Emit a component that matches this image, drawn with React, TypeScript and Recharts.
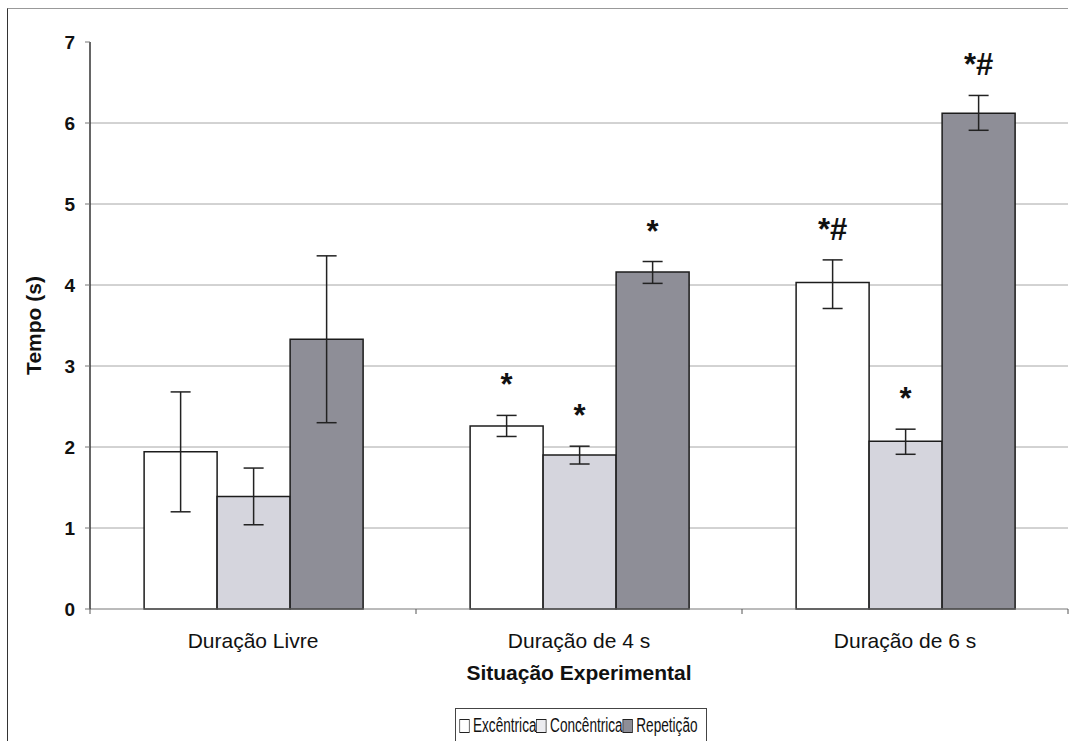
import React from 'react';
import { BarChart, Bar, XAxis, YAxis, CartesianGrid, ErrorBar, Legend } from 'recharts';

const FONT = '"Liberation Sans", Arial, sans-serif';

const categories = ['Duração Livre', 'Duração de 4 s', 'Duração de 6 s'];

const excentrica = [1.94, 2.26, 4.03];
const excLow = [1.2, 2.13, 3.71];
const excHigh = [2.68, 2.39, 4.31];

const concentrica = [1.39, 1.9, 2.07];
const concLow = [1.04, 1.79, 1.91];
const concHigh = [1.74, 2.01, 2.22];

const repeticao = [3.33, 4.16, 6.12];
const repLow = [2.3, 4.02, 5.91];
const repHigh = [4.36, 4.29, 6.34];

const excSig = ['', '*', '*#'];
const concSig = ['', '*', '*'];
const repSig = ['', '*', '*#'];

const yTicks = [0, 1, 2, 3, 4, 5, 6, 7];
const gridValues = [1, 2, 3, 4, 5, 6];

const COLORS = {
  exc: '#ffffff',
  conc: '#d5d5dd',
  rep: '#8e8e97',
  stroke: '#1c1c1c',
};

const data = categories.map((name, i) => ({
  name,
  exc: excentrica[i],
  excErr: [excentrica[i] - excLow[i], excHigh[i] - excentrica[i]],
  conc: concentrica[i],
  concErr: [concentrica[i] - concLow[i], concHigh[i] - concentrica[i]],
  rep: repeticao[i],
  repErr: [repeticao[i] - repLow[i], repHigh[i] - repeticao[i]],
}));

// significance marks sit a little above the top of each error bar
const sigLabel = (values: number[], high: number[], sig: string[]) => (props: any) => {
  const { x, y, width, height } = props;
  let i = props.index;
  if (i == null) i = values.indexOf(Number(props.value));
  if (i < 0 || !sig[i]) return null;
  const perUnit = height / values[i];
  const top = y + height - high[i] * perUnit;
  return (
    <text
      key={`sig-${i}`}
      x={x + width / 2}
      y={top - 20}
      textAnchor="middle"
      fontFamily={FONT}
      fontSize={31}
      fontWeight="bold"
      fill="#111"
    >
      {sig[i]}
    </text>
  );
};

function CategoryTick(props: any) {
  const { x, y, payload, index } = props;
  const half = payload?.offset || 163;
  return (
    <g>
      <line x1={x - half} y1={y} x2={x - half} y2={y + 5} stroke="#555" />
      {index === categories.length - 1 && (
        <line x1={x + half} y1={y} x2={x + half} y2={y + 5} stroke="#555" />
      )}
      <text x={x} y={y + 39} textAnchor="middle" fontFamily={FONT} fontSize={21} fill="#111">
        {payload.value}
      </text>
    </g>
  );
}

function LegendBox() {
  const items = [
    { name: 'Excêntrica', color: COLORS.exc },
    { name: 'Concêntrica', color: '#ececf0' },
    { name: 'Repetição', color: COLORS.rep },
  ];
  return (
    <div
      style={{
        height: 40,
        width: 252,
        border: '1px solid #444',
        background: '#fff',
        boxSizing: 'border-box',
        overflow: 'hidden',
      }}
    >
      <div
        style={{
          display: 'inline-flex',
          alignItems: 'center',
          whiteSpace: 'nowrap',
          transform: 'scaleX(0.68)',
          transformOrigin: 'left center',
          fontFamily: FONT,
          fontSize: 20,
          color: '#111',
          paddingLeft: 5,
          paddingTop: 5,
        }}
      >
        {items.map((it) => (
          <span key={it.name} style={{ display: 'inline-flex', alignItems: 'center' }}>
            <span
              style={{
                display: 'inline-block',
                width: 13,
                height: 12,
                border: '1.5px solid #222',
                background: it.color,
                marginRight: 5,
              }}
            />
            {it.name}
          </span>
        ))}
      </div>
    </div>
  );
}

export default function App() {
  return (
    <div style={{ position: 'absolute', left: 0, top: 0, width: 1073, height: 741, overflow: 'hidden', background: '#fff' }}>
      <div
        style={{
          position: 'absolute',
          left: 7,
          top: 8,
          width: 1060,
          height: 760,
          borderTop: '1.5px solid #999',
          borderLeft: '1.5px solid #333',
          pointerEvents: 'none',
        }}
      />
      <BarChart
        width={1073}
        height={741}
        data={data}
        margin={{ top: 42, right: 5, bottom: 28, left: 20 }}
        barCategoryGap="16.6%"
        barGap={0}
      >
        <CartesianGrid vertical={false} stroke="#a6a6a6" horizontalValues={gridValues} />
        <XAxis
          dataKey="name"
          height={70}
          tickLine={false}
          tickSize={0}
          tickMargin={0}
          axisLine={{ stroke: '#777' }}
          tick={<CategoryTick />}
          interval={0}
          label={({ viewBox }: any) => (
            <text
              x={viewBox.x + viewBox.width / 2}
              y={viewBox.y + 71}
              textAnchor="middle"
              fontFamily={FONT}
              fontSize={21}
              fontWeight="bold"
              fill="#111"
            >
              Situação Experimental
            </text>
          )}
        />
        <YAxis
          domain={[0, 7]}
          ticks={yTicks}
          interval={0}
          width={70}
          tickSize={5}
          tickMargin={10}
          axisLine={{ stroke: '#333', strokeWidth: 1.5 }}
          tickLine={{ stroke: '#777' }}
          tick={{ fontFamily: FONT, fontSize: 19, fontWeight: 'bold', fill: '#111' }}
          label={({ viewBox }: any) => {
            const cx = viewBox.x + 13;
            const cy = viewBox.y + viewBox.height / 2;
            return (
              <text
                x={cx}
                y={cy}
                transform={`rotate(-90, ${cx}, ${cy})`}
                textAnchor="middle"
                dominantBaseline="central"
                fontFamily={FONT}
                fontSize={21}
                fontWeight="bold"
                fill="#111"
              >
                Tempo (s)
              </text>
            );
          }}
        />
        <Legend
          verticalAlign="bottom"
          content={<LegendBox />}
          wrapperStyle={{ top: 708, left: 455, width: 252, height: 34, bottom: 'auto' }}
        />
        <Bar
          dataKey="exc"
          name="Excêntrica"
          fill={COLORS.exc}
          stroke={COLORS.stroke}
          strokeWidth={1.5}
          isAnimationActive={false}
          label={sigLabel(excentrica, excHigh, excSig)}
        >
          <ErrorBar dataKey="excErr" width={10} stroke="#222" strokeWidth={1.5} direction="y" />
        </Bar>
        <Bar
          dataKey="conc"
          name="Concêntrica"
          fill={COLORS.conc}
          stroke={COLORS.stroke}
          strokeWidth={1.5}
          isAnimationActive={false}
          label={sigLabel(concentrica, concHigh, concSig)}
        >
          <ErrorBar dataKey="concErr" width={10} stroke="#222" strokeWidth={1.5} direction="y" />
        </Bar>
        <Bar
          dataKey="rep"
          name="Repetição"
          fill={COLORS.rep}
          stroke={COLORS.stroke}
          strokeWidth={1.5}
          isAnimationActive={false}
          label={sigLabel(repeticao, repHigh, repSig)}
        >
          <ErrorBar dataKey="repErr" width={10} stroke="#222" strokeWidth={1.5} direction="y" />
        </Bar>
      </BarChart>
    </div>
  );
}
